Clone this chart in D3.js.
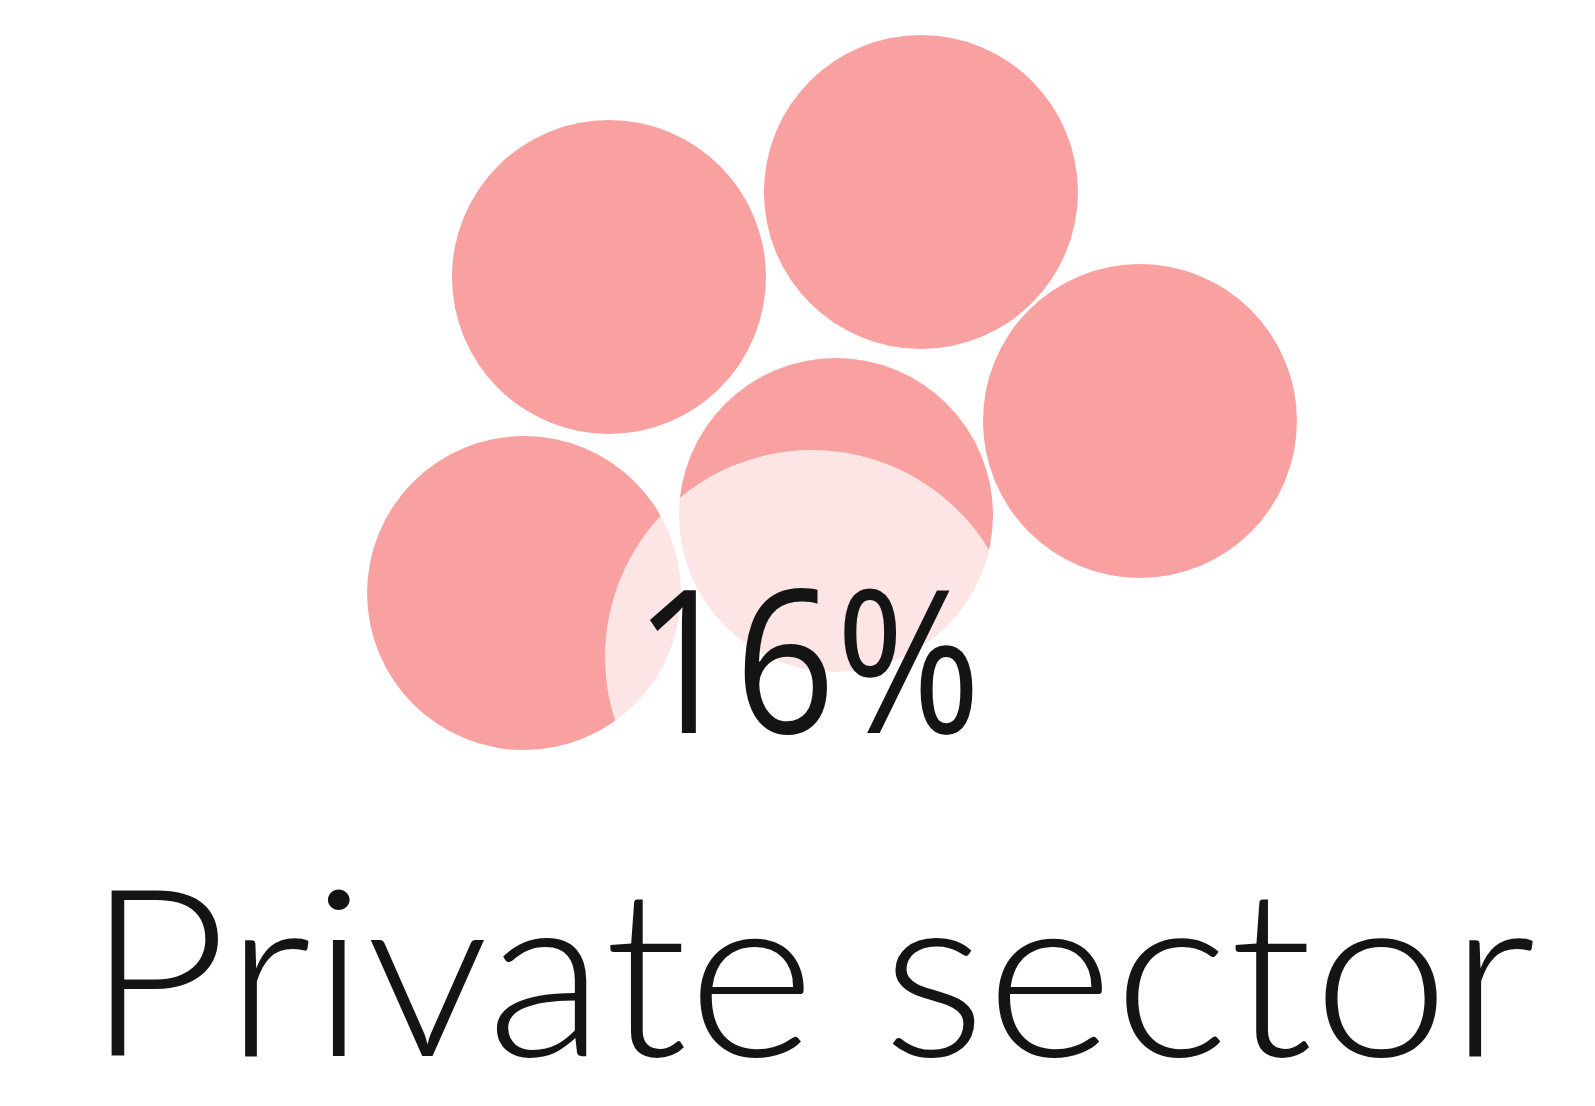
<!DOCTYPE html>
<html>
<head>
<meta charset="utf-8">
<script src="https://cdn.jsdelivr.net/npm/d3@7/dist/d3.min.js"></script>
<style>
  html, body { margin: 0; padding: 0; background: #ffffff; }
  svg { display: block; }
</style>
</head>
<body>
<svg id="chart" width="1595" height="1106"></svg>
<script>
// ---- data ----
const category = ["Private sector"];
const shareValues = [16];          // percent
const unitIcons = ["u1", "u2", "u3", "u4", "u5"]; // five pictogram units

// ---- pictogram arrangement (in units of icon radius, relative to the middle icon) ----
const arrangement = [
  { id: "u1", dx: -1.446, dy: -1.516 },
  { id: "u2", dx: 0.541, dy: -2.057 },
  { id: "u3", dx: 1.936, dy: -0.599 },
  { id: "u4", dx: -1.987, dy: 0.497 },
  { id: "u5", dx: 0, dy: 0 }
];
const halo = { dx: -0.153, dy: 0.904, r: 1.318 };

const W = 1595, H = 1106;
const R = 157;
const cx0 = 836, cy0 = 515;

const svg = d3.select("#chart");
const x = d3.scaleLinear().domain([-1, 1]).range([cx0 - R, cx0 + R]);
const y = d3.scaleLinear().domain([-1, 1]).range([cy0 - R, cy0 + R]);
const rs = d3.scaleLinear().domain([0, 1]).range([0, R]);

const pos = new Map(arrangement.map(d => [d.id, d]));

svg.append("rect").attr("width", W).attr("height", H).attr("fill", "#ffffff");

svg.append("g")
  .selectAll("circle")
  .data(unitIcons)
  .join("circle")
  .attr("cx", d => x(pos.get(d).dx))
  .attr("cy", d => y(pos.get(d).dy))
  .attr("r", rs(1))
  .attr("fill", "#f9a1a1");

// label halo
svg.append("circle")
  .attr("cx", x(halo.dx))
  .attr("cy", y(halo.dy))
  .attr("r", rs(halo.r))
  .attr("fill", "#ffffff")
  .attr("fill-opacity", 0.72);

const fmt = d => d3.format("d")(d) + "%";

svg.append("text")
  .attr("x", 634)
  .attr("y", 733)
  .attr("font-family", "'Open Sans', 'Noto Sans', sans-serif")
  .attr("font-weight", 500)
  .attr("font-size", 200)
  .attr("fill", "#141414")
  .attr("textLength", 347)
  .attr("lengthAdjust", "spacingAndGlyphs")
  .text(fmt(shareValues[0]));

svg.append("text")
  .attr("x", 86)
  .attr("y", 1056)
  .attr("font-family", "Lato, 'Open Sans', sans-serif")
  .attr("font-weight", 300)
  .attr("font-size", 233)
  .attr("fill", "#141414")
  .attr("textLength", 1450)
  .attr("lengthAdjust", "spacingAndGlyphs")
  .text(category[0]);
</script>
</body>
</html>
